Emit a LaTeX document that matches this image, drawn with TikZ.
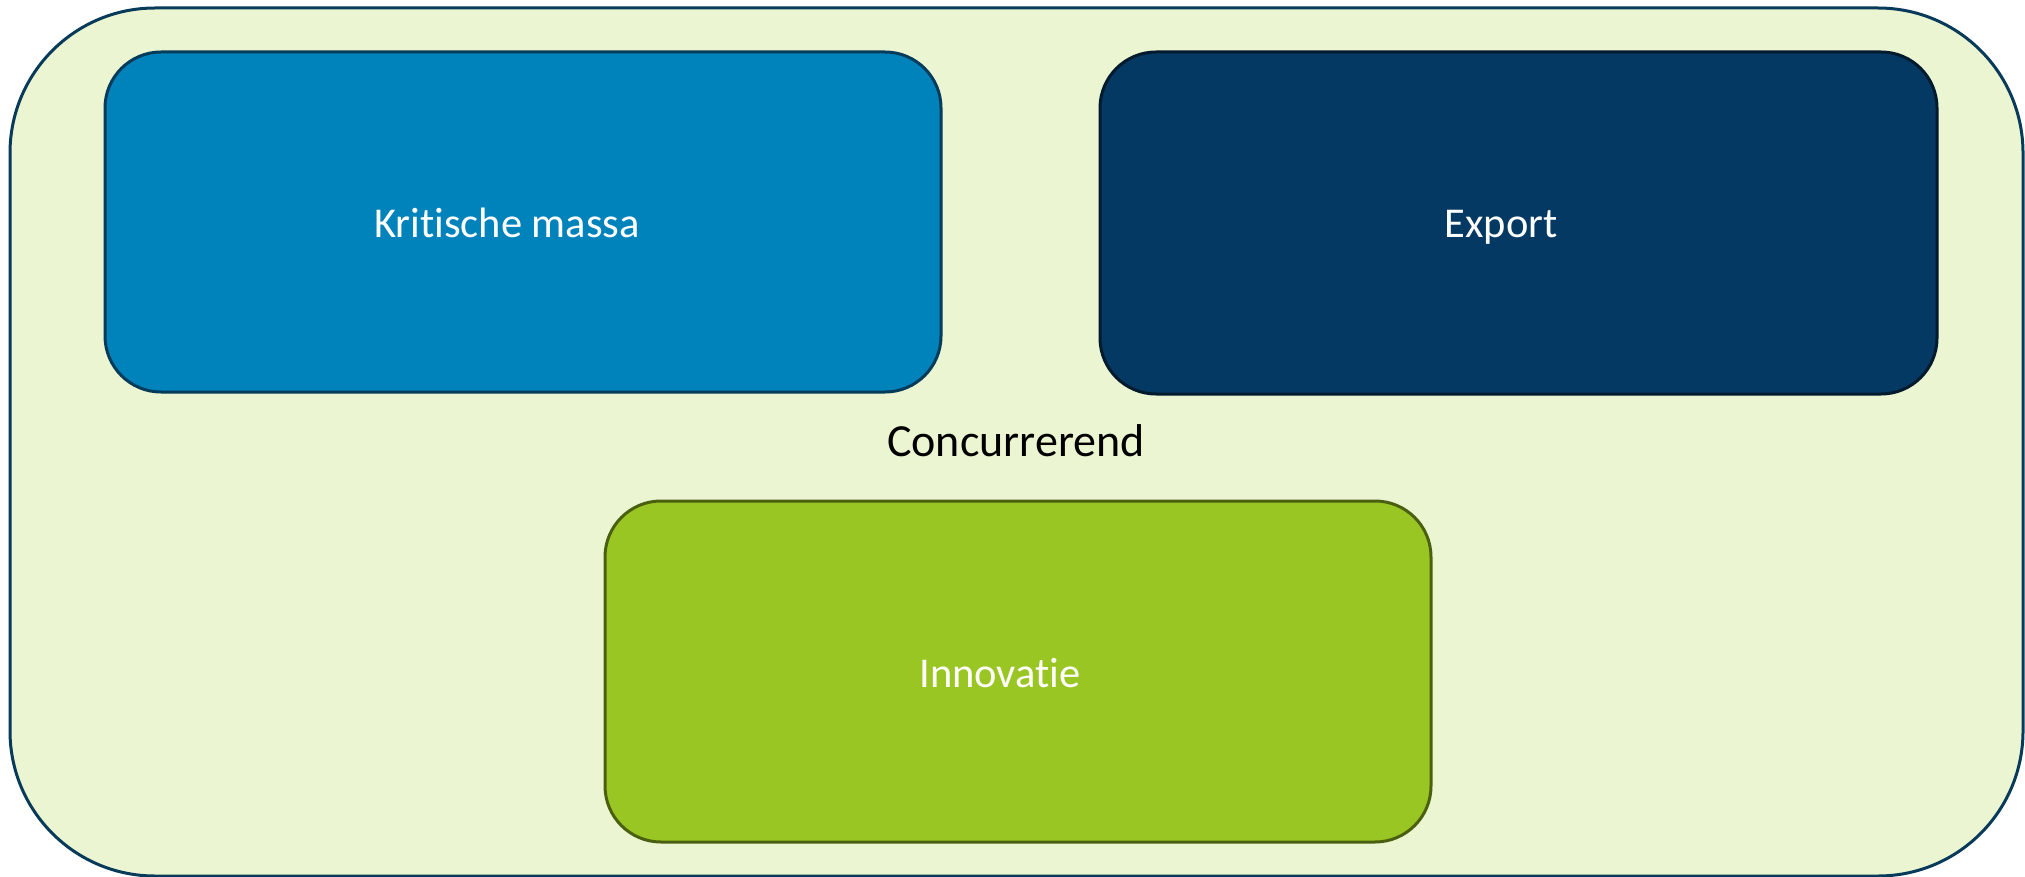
\documentclass[tikz,border=0pt]{standalone}
\usepackage{fontspec}
\setmainfont[Ligatures={NoCommon}]{Carlito}
\definecolor{outerfill}{RGB}{235,245,210}
\definecolor{outerline}{RGB}{8,58,90}
\definecolor{kmfill}{RGB}{0,130,186}
\definecolor{kmline}{RGB}{6,59,90}
\definecolor{exfill}{RGB}{3,57,98}
\definecolor{exline}{RGB}{2,26,46}
\definecolor{infill}{RGB}{154,198,35}
\definecolor{inline}{RGB}{74,96,16}
\tikzset{
  boxshape/.style={line width=3pt, rounded corners=56pt},
  boxlabel/.style={anchor=base, inner sep=0pt, text=white, font=\fontsize{42.5}{51}\selectfont},
  outerlabel/.style={anchor=base, inner sep=0pt, text=black, font=\fontsize{46}{55}\selectfont}
}
\begin{document}
\begin{tikzpicture}[x=1pt,y=-1pt]
\useasboundingbox (0,0) rectangle (2025,877);
\draw[line width=3pt, rounded corners=145pt, fill=outerfill, draw=outerline] (10,8) rectangle (2023,876);
\draw[boxshape, fill=kmfill, draw=kmline] (105,52) rectangle (941,392);
\draw[boxshape, fill=exfill, draw=exline] (1100,52) rectangle (1937,394);
\draw[boxshape, fill=infill, draw=inline] (605,501) rectangle (1431,842);
\node[boxlabel] (km) at (507,237.7) {Kritische massa};
\node[boxlabel] (ex) at (1501,237.7) {Export};
\node[boxlabel] (in) at (1000,687.7) {Innovatie};
\node[outerlabel] (co) at (1016,456) {Concurrerend};
\end{tikzpicture}
\end{document}
